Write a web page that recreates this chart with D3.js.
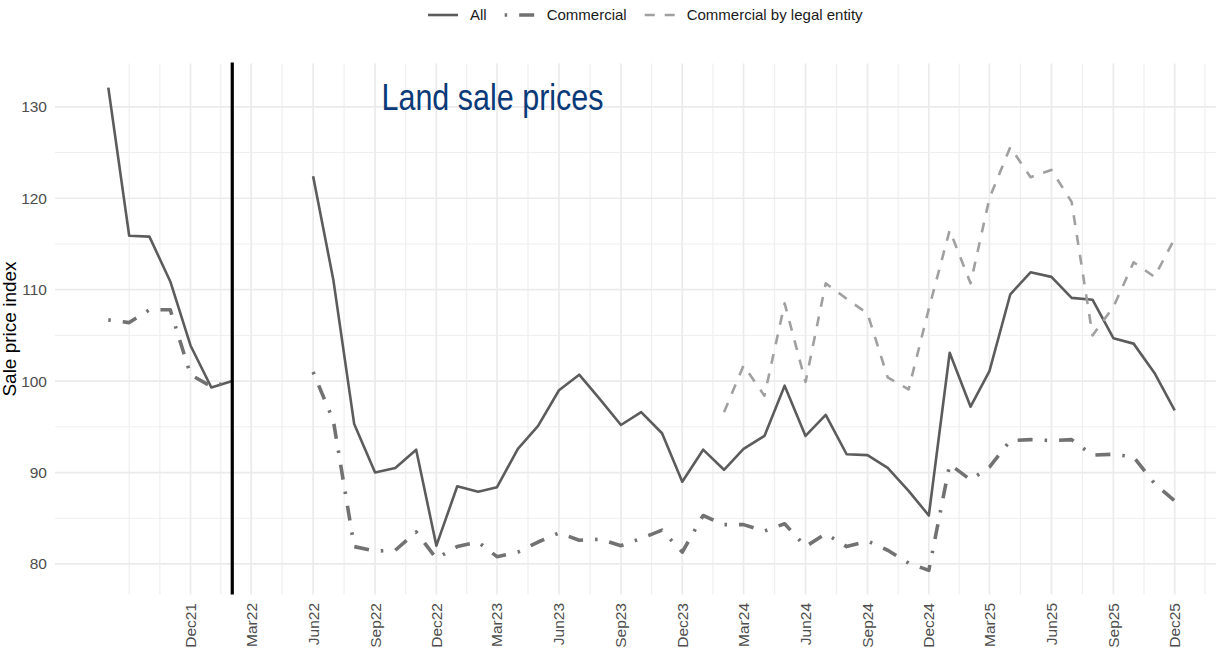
<!DOCTYPE html>
<html>
<head>
    <meta charset="utf-8">
    <title>Land sale prices</title>
    <script src="https://cdnjs.cloudflare.com/ajax/libs/d3/7.8.5/d3.min.js"></script>
</head>
<body style="margin:0;background:#fff">
<style>
    text { font-family: "Liberation Sans", Arial, sans-serif; }
</style>
<script>
    // monthly series, Aug 2021 .. Dec 2025 (null = no data)
    const months = d3.timeMonth.range(new Date(2021, 7, 1), new Date(2026, 0, 1));

    const allValues = [
        132.1, 115.9, 115.8, 110.9, 103.9,
        99.3, 100.0, null, null, null, 122.4, 111.1, 95.3, 90.0, 90.5, 92.5, 82.0,
        88.5, 87.9, 88.4, 92.6, 95.1, 99.0, 100.7, 98.0, 95.2, 96.6, 94.3, 89.0,
        92.5, 90.3, 92.6, 94.0, 99.5, 94.0, 96.3, 92.0, 91.9, 90.5, 88.0, 85.3,
        103.1, 97.2, 101.1, 109.5, 111.9, 111.4, 109.1, 108.9, 104.7, 104.1, 100.9, 96.8
    ];
    const commercialValues = [
        106.7, 106.4, 107.8, 107.8, 100.7,
        99.4, 100.0, null, null, null, 101.0, 95.7, 81.9, 81.4, 81.5, 83.5, 80.6,
        81.9, 82.4, 80.8, 81.3, 82.4, 83.4, 82.6, 82.7, 82.0, 82.8, 83.7, 81.3,
        85.3, 84.3, 84.3, 83.6, 84.4, 81.9, 83.3, 81.9, 82.5, 81.5, 80.1, 79.3,
        90.9, 89.2, 90.6, 93.5, 93.6, 93.5, 93.6, 91.9, 92.0, 91.7, 88.8, 86.9
    ];
    const legalValues = [
        null, null, null, null, null,
        null, null, null, null, null, null, null, null, null, null, null, null,
        null, null, null, null, null, null, null, null, null, null, null, null,
        null, 96.6, 101.7, 98.4, 108.5, 99.9, 110.7, 109.0, 107.4, 100.4, 99.1, 107.9,
        116.5, 110.7, 120.0, 125.6, 122.3, 123.1, 119.6, 105.0, 108.1, 113.0, 111.4, 115.6
    ];
    const seriesNames = ["All", "Commercial", "Commercial by legal entity"];
    const yTicks = [80, 90, 100, 110, 120, 130];
    const refMonth = new Date(2022, 1, 1); // base period line

    const styles = [
        {color: "#5c5c5c", width: 2.6, dash: null},
        {color: "#727272", width: 3.6, dash: "2.5,12,15,12"},
        {color: "#a0a0a0", width: 2.6, dash: "10,10"}
    ];

    const W = 1216, H = 650;
    const panel = {left: 55, right: 1228, top: 63.5, bottom: 594.5};

    const svg = d3.select("body").append("svg").attr("width", W).attr("height", H)
        .style("display", "block");

    const series = [allValues, commercialValues, legalValues].map((vals, i) => ({
        name: seriesNames[i],
        points: vals.map((v, j) => ({date: months[j], v: v}))
    }));

    // ggplot-style 5% expansion
    const tExt = d3.extent(months);
    const tPad = (tExt[1] - tExt[0]) * 0.05;
    const x = d3.scaleTime()
        .domain([new Date(+tExt[0] - tPad), new Date(+tExt[1] + tPad)])
        .range([panel.left, panel.right]);

    const vExt = d3.extent([].concat(allValues, commercialValues, legalValues).filter(v => v != null));
    const vPad = (vExt[1] - vExt[0]) * 0.05;
    const y = d3.scaleLinear()
        .domain([vExt[0] - vPad, vExt[1] + vPad])
        .range([panel.bottom, panel.top]);

    // grid
    const majorX = d3.timeMonth.range(new Date(2021, 11, 1), new Date(2026, 0, 2), 3);
    const ext = [d3.timeMonth.offset(majorX[0], -3)].concat(majorX, [d3.timeMonth.offset(majorX[majorX.length - 1], 3)]);
    const minorX = [ext[0]];
    for (let i = 1; i < ext.length; i++) {
        minorX.push(new Date((+ext[i - 1] + +ext[i]) / 2));
    }
    const minorY = [85, 95, 105, 115, 125];

    const grid = svg.append("g");
    grid.selectAll(".hmin").data(minorY).enter().append("line")
        .attr("x1", panel.left).attr("x2", W).attr("y1", d => y(d)).attr("y2", d => y(d))
        .attr("stroke", "#efefef").attr("stroke-width", 1);
    grid.selectAll(".vmin").data(minorX.filter(d => x(d) < W)).enter().append("line")
        .attr("y1", panel.top).attr("y2", panel.bottom).attr("x1", d => x(d)).attr("x2", d => x(d))
        .attr("stroke", "#efefef").attr("stroke-width", 1.2);
    grid.selectAll(".hmaj").data(yTicks).enter().append("line")
        .attr("x1", panel.left).attr("x2", W).attr("y1", d => y(d)).attr("y2", d => y(d))
        .attr("stroke", "#ebebeb").attr("stroke-width", 1.7);
    grid.selectAll(".vmaj").data(majorX).enter().append("line")
        .attr("y1", panel.top).attr("y2", panel.bottom).attr("x1", d => x(d)).attr("x2", d => x(d))
        .attr("stroke", "#ebebeb").attr("stroke-width", 1.7);

    // axes labels
    svg.append("g").selectAll("text").data(yTicks).enter().append("text")
        .attr("x", 47).attr("y", d => y(d)).attr("dy", "0.35em")
        .attr("text-anchor", "end").attr("font-size", 15.5).attr("fill", "#4d4d4d")
        .text(d => d);

    svg.append("g").selectAll("text").data(majorX).enter().append("text")
        .attr("transform", d => `translate(${x(d)},603) rotate(-90)`)
        .attr("dy", "0.35em").attr("text-anchor", "end")
        .attr("font-size", 15.5).attr("fill", "#4d4d4d")
        .text(d3.timeFormat("%b%y"));

    svg.append("text")
        .attr("transform", `translate(16,${(panel.top + panel.bottom) / 2}) rotate(-90)`)
        .attr("text-anchor", "middle").attr("font-size", 19).attr("fill", "#000")
        .text("Sale price index");

    // lines
    const line = d3.line().defined(d => d.v != null).x(d => x(d.date)).y(d => y(d.v));
    svg.append("g").selectAll("path").data(series).enter().append("path")
        .attr("d", d => line(d.points))
        .attr("fill", "none")
        .attr("stroke", (d, i) => styles[i].color)
        .attr("stroke-width", (d, i) => styles[i].width)
        .attr("stroke-dasharray", (d, i) => styles[i].dash)
        .attr("stroke-linejoin", "round");

    svg.append("line")
        .attr("x1", x(refMonth)).attr("x2", x(refMonth))
        .attr("y1", panel.top - 1).attr("y2", panel.bottom)
        .attr("stroke", "#000").attr("stroke-width", 3.2);

    svg.append("text")
        .attr("x", 381.5).attr("y", 109.5)
        .attr("font-size", 37).attr("fill", "#0a3a78")
        .attr("textLength", 222).attr("lengthAdjust", "spacingAndGlyphs")
        .text("Land sale prices");

    // legend
    const legend = svg.append("g");
    let lx = 428;
    series.forEach((s, i) => {
        const g = legend.append("g");
        g.append("line")
            .attr("x1", lx).attr("x2", lx + 30).attr("y1", 15).attr("y2", 15)
            .attr("stroke", styles[i].color).attr("stroke-width", styles[i].width)
            .attr("stroke-dasharray", styles[i].dash);
        const t = g.append("text")
            .attr("x", lx + 42).attr("y", 15).attr("dy", "0.35em")
            .attr("font-size", 15).attr("fill", "#1a1a1a")
            .text(s.name);
        lx += 42 + t.node().getComputedTextLength() + 18;
    });
</script>
</body>
</html>
